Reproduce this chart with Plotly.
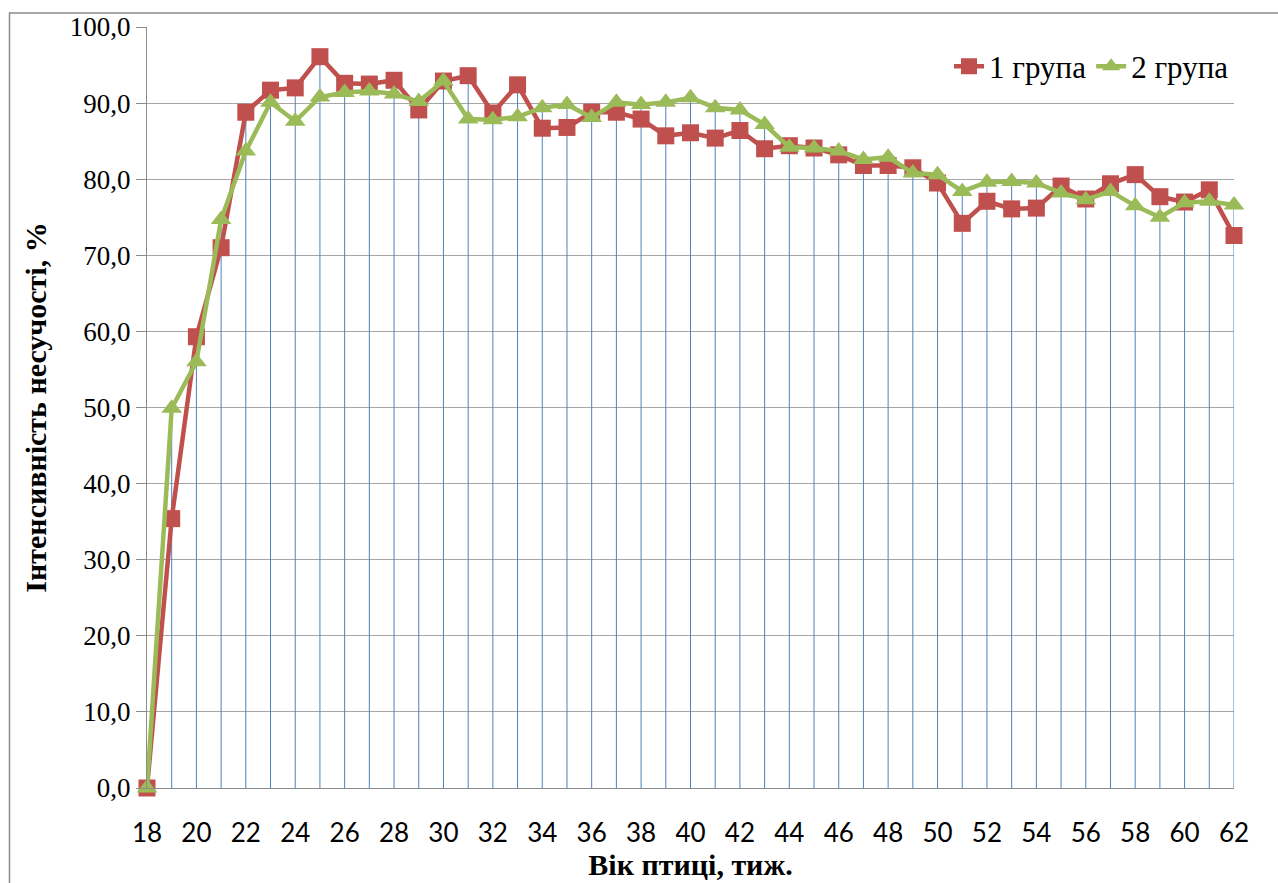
import plotly.graph_objects as go

weeks = list(range(18, 63))
group1 = [0.0, 35.4, 59.3, 71.0, 88.8, 91.7, 92.0, 96.1, 92.6, 92.5, 93.0, 89.1, 92.9, 93.6, 88.7,
          92.4, 86.7, 86.8, 88.8, 88.8, 87.9, 85.7, 86.1, 85.4, 86.4, 84.0, 84.4, 84.1, 83.2, 81.8,
          81.8, 81.5, 79.5, 74.2, 77.1, 76.1, 76.2, 79.1, 77.4, 79.4, 80.6, 77.7, 77.0, 78.6, 72.6]
group2 = [0.0, 49.9, 56.0, 74.7, 83.7, 90.1, 87.6, 90.8, 91.4, 91.6, 91.2, 90.2, 92.9, 87.9, 87.8,
          88.2, 89.4, 89.8, 88.1, 90.1, 89.8, 90.1, 90.7, 89.4, 89.1, 87.2, 84.2, 84.1, 83.7, 82.6,
          82.9, 80.8, 80.6, 78.4, 79.6, 79.7, 79.5, 78.2, 77.3, 78.4, 76.5, 75.0, 76.9, 77.1, 76.6]
names = ["1 група", "2 група"]
x_ticks = list(range(18, 63, 2))
y_ticks = list(range(0, 101, 10))

SERIF = "Liberation Serif, Tinos, Times New Roman, DejaVu Serif, serif"

# drop lines from axis to the highest point
dx, dy = [], []
for w, a, b in zip(weeks, group1, group2):
    dx += [w, w, None]
    dy += [0, max(a, b), None]

fig = go.Figure()
fig.add_trace(go.Scatter(x=dx, y=dy, mode="lines", line=dict(color="#4F81BD", width=1),
                         showlegend=False, hoverinfo="skip"))
fig.add_trace(go.Scatter(x=weeks, y=group1, name=names[0], mode="lines+markers",
                         line=dict(color="#C0504D", width=4.5),
                         marker=dict(symbol="square", size=17, color="#C0504D"),
                         cliponaxis=False))
fig.add_trace(go.Scatter(x=weeks, y=group2, name=names[1], mode="lines+markers",
                         line=dict(color="#9BBB59", width=4.5),
                         marker=dict(symbol="triangle-up", size=18, color="#9BBB59"),
                         cliponaxis=False))

L, R, T, B = 147, 44, 27, 95
W, H = 1278, 883
pw = W - L - R
ph = H - T - B

fig.update_layout(
    width=W, height=H,
    margin=dict(l=L, r=R, t=T, b=B, autoexpand=False),
    paper_bgcolor="white", plot_bgcolor="white",
    separators=", ",
    showlegend=True,
    legend=dict(orientation="h", x=1.0, xanchor="right", y=0.948, yanchor="middle",
                font=dict(family=SERIF, size=31, color="black"),
                itemwidth=30, bgcolor="rgba(0,0,0,0)", tracegroupgap=0),
    xaxis=dict(range=[18, 62], tickvals=x_ticks, ticktext=[str(t) for t in x_ticks],
               automargin=False,
               showgrid=False, zeroline=False, showline=True, linecolor="#8C8C8C", linewidth=1,
               ticks="", ticklabelstandoff=22,
               tickfont=dict(family="Lato", size=26, color="black"),
               title=dict(text="<b>Вік птиці, тиж.</b>", standoff=5,
                          font=dict(family=SERIF, size=30, color="black"))),
    yaxis=dict(range=[0, 100], tickvals=y_ticks, tickformat=".1f",
               automargin=False,
               showgrid=True, gridcolor="#A6A6A6", gridwidth=1, zeroline=False,
               showline=True, linecolor="#8C8C8C", linewidth=1,
               ticks="outside", ticklen=10, tickcolor="#8C8C8C",
               tickfont=dict(family=SERIF, size=27, color="black"),
               title=dict(text="<b>Інтенсивність несучості, %</b>", standoff=14,
                          font=dict(family=SERIF, size=30, color="black"))),
    shapes=[dict(type="rect", xref="paper", yref="paper",
                 x0=(9.5 - L) / pw, x1=(W + 20 - L) / pw,
                 y0=-(B + 20) / ph, y1=1 + (T - 13) / ph,
                 line=dict(color="#8C8C8C", width=1.5), fillcolor="rgba(0,0,0,0)", layer="below")],
)

fig.write_html("out.html", config={"displayModeBar": False},
               post_script="document.body.style.margin='0';document.body.style.overflow='hidden';")
